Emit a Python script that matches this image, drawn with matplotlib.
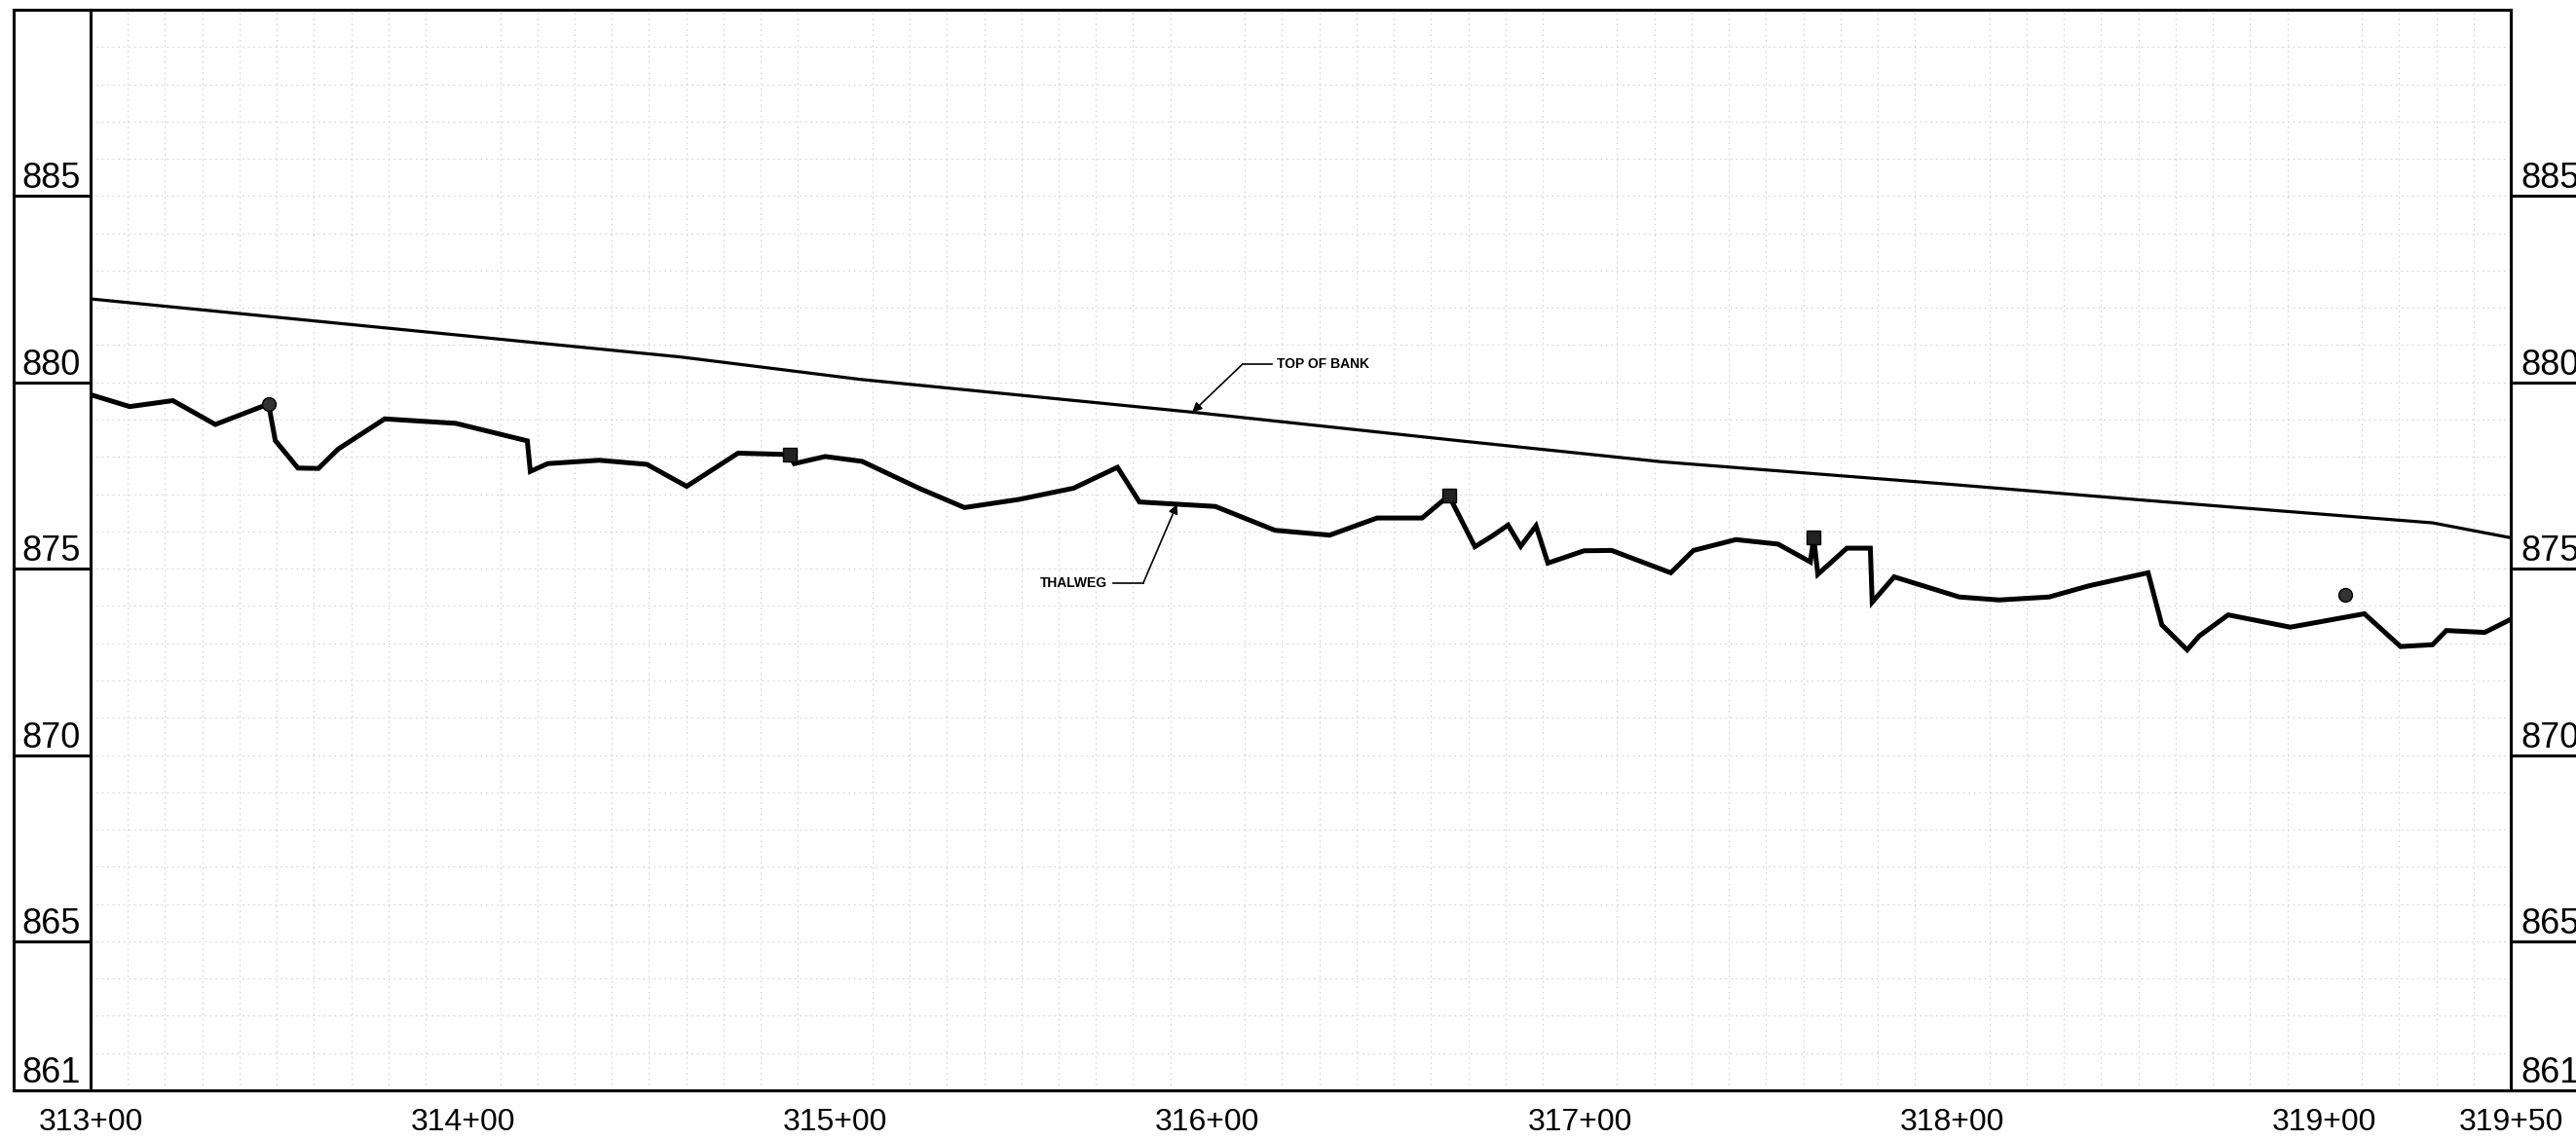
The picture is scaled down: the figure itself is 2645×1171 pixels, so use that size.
import matplotlib
matplotlib.use('Agg')
import matplotlib.pyplot as plt
import matplotlib.transforms as mtransforms
import numpy as np

# profile data (station in ft, elevation in ft)
bank_station = [31300, 31458.6, 31506.7, 31595.9, 31667.9, 31721.8, 31798.7,
                31852.4, 31929.0, 31950]
bank_elev = [882.24, 880.68, 880.08, 879.20, 878.43, 877.87, 877.27,
             876.83, 876.23, 875.83]

thalweg_station = [31300, 31310.5, 31322.1, 31333.5, 31347.8, 31349.6, 31355.7,
                   31361.2, 31366.5, 31379.0, 31398.1, 31417.3, 31418.1, 31422.8,
                   31436.6, 31449.4, 31460.1, 31473.9, 31485.3, 31487.7, 31489.0,
                   31497.3, 31507.2, 31522.7, 31534.7, 31549.4, 31564.0, 31575.8,
                   31581.7, 31602.1, 31618.1, 31632.8, 31645.5, 31657.6, 31664.8,
                   31671.8, 31676.5, 31680.7, 31684.1, 31688.2, 31691.4, 31701.1,
                   31708.5, 31724.4, 31730.5, 31741.9, 31753.2, 31761.9, 31762.8,
                   31763.9, 31771.7, 31778.0, 31778.5, 31784.4, 31801.9, 31812.6,
                   31826.0, 31836.7, 31852.6, 31856.3, 31863.1, 31866.3, 31874.1,
                   31890.8, 31910.7, 31920.4, 31929.0, 31932.7, 31943.0, 31950]
thalweg_elev = [879.67, 879.35, 879.51, 878.87, 879.42, 878.44, 877.70,
                877.69, 878.21, 879.02, 878.90, 878.43, 877.61, 877.82,
                877.91, 877.80, 877.21, 878.10, 878.07, 878.05, 877.82,
                878.01, 877.88, 877.15, 876.64, 876.86, 877.16, 877.72,
                876.79, 876.67, 876.03, 875.90, 876.36, 876.36, 876.96,
                875.59, 875.88, 876.17, 875.60, 876.15, 875.15, 875.48,
                875.49, 874.89, 875.49, 875.78, 875.66, 875.18, 875.83,
                874.85, 875.55, 875.55, 874.10, 874.78, 874.24, 874.16,
                874.24, 874.54, 874.89, 873.49, 872.82, 873.19, 873.76,
                873.43, 873.79, 872.91, 872.96, 873.34, 873.29, 873.64]

# survey shots shown as symbols
circle_station = [31347.8, 31905.6]
circle_elev = [879.42, 874.29]
square_station = [31487.7, 31664.8, 31762.8]
square_elev = [878.05, 876.96, 875.83]

xtick_station = [31300, 31400, 31500, 31600, 31700, 31800, 31900, 31950]
ytick_elev = [861, 865, 870, 875, 880, 885]

# label positions for the callouts
bank_label = ('TOP OF BANK', 31618.7, 880.49, 31609.4, 31595.9)
thalweg_label = ('THALWEG', 31573.1, 874.61, 31582.7, 31591.8)

label_font = ['Liberation Sans Narrow', 'Liberation Sans', 'DejaVu Sans']

W, H = 2645, 1171
fig = plt.figure(figsize=(W / 100, H / 100), dpi=100)
fig.patch.set_facecolor('white')

# plot area in pixels of the sheet
left, right, top, bottom = 93, 2578, 10, 1120
ax = fig.add_axes([left / W, 1 - bottom / H, (right - left) / W, (bottom - top) / H])
ax.set_xlim(31300, 31950)
ax.set_ylim(861, 890)

# faint dotted grid: 10 ft stations, 1 ft elevation
ax.set_xticks(np.arange(31300, 31951, 10), minor=True)
ax.set_yticks(np.arange(861, 891, 1), minor=True)
ax.grid(which='minor', color='#d2d2d2', linestyle=(0, (1.5, 3.5)), linewidth=0.8)
ax.tick_params(which='minor', length=0)
ax.set_yticks([])

labels = ['%d+%02d' % (s // 100, s % 100) for s in xtick_station]
ax.set_xticks(xtick_station)
ax.set_xticklabels(labels, fontsize=23, family=label_font)
ax.tick_params(axis='x', which='major', length=0, pad=13)

for side in ['left', 'right', 'top', 'bottom']:
    ax.spines[side].set_linewidth(2.2)
    ax.spines[side].set_color('black')

# top of bank and thalweg profiles
ax.plot(bank_station, bank_elev, color='black', linewidth=2.3, zorder=3)
ax.plot(thalweg_station, thalweg_elev, color='black', linewidth=3.6,
        solid_joinstyle='miter', zorder=3)
ax.plot(circle_station, circle_elev, 'o', color='#333333', markeredgecolor='black',
        markersize=10, zorder=4)
ax.plot(square_station, square_elev, 's', color='#222222', markeredgecolor='black',
        markersize=10, zorder=4)

# callouts with a short horizontal leader and an arrow to the line
def callout(info, line_station, line_elev, ha):
    text, tx, ty, elbow_x, tip_x = info
    tip_y = np.interp(tip_x, line_station, line_elev)
    if ha == 'left':
        ax.plot([elbow_x, tx - 1.5], [ty, ty], color='black', linewidth=1.2)
    else:
        ax.plot([tx + 1.5, elbow_x], [ty, ty], color='black', linewidth=1.2)
    ax.annotate('', xy=(tip_x, tip_y), xytext=(elbow_x, ty),
                arrowprops=dict(arrowstyle='-|>', color='black', linewidth=1.2,
                                mutation_scale=14, shrinkA=0, shrinkB=0))
    ax.text(tx, ty, text, ha=ha, va='center', fontsize=10, fontweight='bold',
            family=label_font)

callout(bank_label, bank_station, bank_elev, 'left')
callout(thalweg_label, thalweg_station, thalweg_elev, 'right')

# elevation label columns on both sides of the plot
trans = mtransforms.blended_transform_factory(ax.transAxes, ax.transData)
span = right - left
outer_left = (14 - left) / span
outer_right = (W - left) / span
for elev in ytick_elev:
    ax.plot([outer_left, 0], [elev, elev], color='black', linewidth=2.2,
            transform=trans, clip_on=False)
    ax.plot([1, outer_right], [elev, elev], color='black', linewidth=2.2,
            transform=trans, clip_on=False)
    ax.text((22 - left) / span, elev, str(elev), transform=trans, ha='left',
            va='bottom', fontsize=26, family=label_font)
    ax.text((2588 - left) / span, elev, str(elev), transform=trans, ha='left',
            va='bottom', fontsize=26, family=label_font)

# outer frame of the left column and top edge
ax.plot([outer_left, outer_left], [861, 890], color='black', linewidth=2.2,
        transform=trans, clip_on=False)
ax.plot([outer_left, 0], [890, 890], color='black', linewidth=2.2,
        transform=trans, clip_on=False)

fig.savefig('out.png', dpi=100, facecolor='white')
